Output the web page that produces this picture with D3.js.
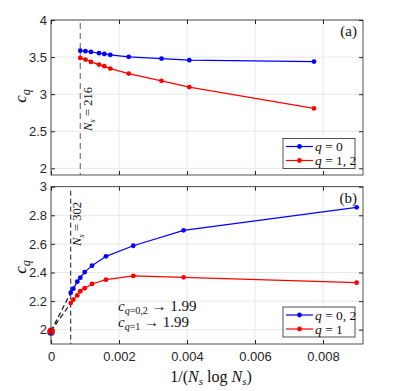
<!DOCTYPE html>
<html>
<head>
<meta charset="utf-8">
<script src="https://cdn.jsdelivr.net/npm/d3@7"></script>
<style>
  body { margin: 0; background: #fff; }
  svg { display: block; }
</style>
</head>
<body>
<script>
const W = 399
const H = 391

// panel (a): x = 1/(Ns log Ns)
const xTop = [0.000861, 0.001015, 0.001176, 0.001412, 0.001568, 0.001744, 0.002285, 0.00325, 0.004068, 0.007735]
const topQ0 = [3.587, 3.579, 3.57, 3.552, 3.543, 3.53, 3.503, 3.48, 3.458, 3.44]
const topQ12 = [3.489, 3.466, 3.435, 3.399, 3.378, 3.345, 3.278, 3.18, 3.095, 2.808]

// panel (b)
const xBot = [0.00058, 0.000656, 0.000774, 0.000862, 0.000991, 0.001206, 0.001618, 0.00242, 0.0039, 0.00899]
const botQ02 = [2.259, 2.287, 2.336, 2.364, 2.403, 2.448, 2.513, 2.587, 2.695, 2.856]
const botQ1 = [2.186, 2.21, 2.24, 2.269, 2.29, 2.32, 2.35, 2.376, 2.366, 2.329]
const extrap = [1.99, 1.99] // q=0,2 and q=1 at 1/(Ns log Ns) -> 0

const xTicks = [0, 0.002, 0.004, 0.006, 0.008]
const yTicksTop = [2, 2.5, 3, 3.5, 4]
const yTicksBot = [2, 2.2, 2.4, 2.6, 2.8, 3]

const nsTop = 216
const nsBot = 302
const xNsTop = 0.000861
const xNsBot = 0.00058

const serif = '"Liberation Serif", "Times New Roman", "DejaVu Serif", serif'
const sans = '"Liberation Sans", Arial, sans-serif'
const axisCol = '#262626'

const svg = d3.select('body').append('svg')
  .attr('width', W)
  .attr('height', H)

const x = d3.scaleLinear().domain([0, 0.009176]).range([51, 363])
const yA = d3.scaleLinear().domain([1.91, 4]).range([175, 20])
const yB = d3.scaleLinear().domain([1.9, 3]).range([344, 186.7])

// draw one panel frame: grid, ticks on all sides
const drawFrame = (y, yTicks, showX) => {
  const g = svg.append('g')
  const [y0, y1] = y.range()
  const [x0, x1] = x.range()

  g.append('g').selectAll('line').data(xTicks).enter().append('line')
    .attr('x1', d => x(d)).attr('x2', d => x(d))
    .attr('y1', y1).attr('y2', y0)
    .attr('stroke', '#e8e8e8').attr('stroke-width', 1)
  g.append('g').selectAll('line').data(yTicks).enter().append('line')
    .attr('x1', x0).attr('x2', x1)
    .attr('y1', d => y(d)).attr('y2', d => y(d))
    .attr('stroke', '#e8e8e8').attr('stroke-width', 1)

  const style = (a) => {
    a.select('.domain').remove()
    a.selectAll('line').attr('stroke', axisCol)
    a.selectAll('text').attr('fill', axisCol)
      .style('font-family', sans).style('font-size', '13px')
  }

  g.append('g').attr('transform', `translate(${x0},0)`)
    .call(d3.axisLeft(y).tickValues(yTicks).tickFormat(d3.format('~g'))
      .tickSizeInner(-4).tickSizeOuter(0).tickPadding(4))
    .call(style)
  g.append('g').attr('transform', `translate(${x1},0)`)
    .call(d3.axisRight(y).tickValues(yTicks).tickFormat('')
      .tickSizeInner(-4).tickSizeOuter(0))
    .call(style)
  g.append('g').attr('transform', `translate(0,${y0})`)
    .call(d3.axisBottom(x).tickValues(xTicks)
      .tickFormat(showX ? d3.format('~g') : '')
      .tickSizeInner(-4).tickSizeOuter(0).tickPadding(8))
    .call(style)
  g.append('g').attr('transform', `translate(0,${y1})`)
    .call(d3.axisTop(x).tickValues(xTicks).tickFormat('')
      .tickSizeInner(-4).tickSizeOuter(0))
    .call(style)

  return g
}

const drawBox = (y) => {
  const [y0, y1] = y.range()
  const [x0, x1] = x.range()
  svg.append('rect')
    .attr('x', x0).attr('y', y1)
    .attr('width', x1 - x0).attr('height', y0 - y1)
    .attr('fill', 'none').attr('stroke', axisCol).attr('stroke-width', 0.8)
}

const drawSeries = (y, xs, ys, color) => {
  const data = xs.map((d, i) => [d, ys[i]])
  const line = d3.line().x(d => x(d[0])).y(d => y(d[1]))
  svg.append('path').datum(data)
    .attr('d', line)
    .attr('fill', 'none').attr('stroke', color).attr('stroke-width', 1.2)
  svg.append('g').selectAll('circle').data(data).enter().append('circle')
    .attr('cx', d => x(d[0])).attr('cy', d => y(d[1]))
    .attr('r', 2.4).attr('fill', color)
}

const drawLegend = (x0, y0, labels, colors) => {
  const g = svg.append('g').attr('transform', `translate(${x0},${y0})`)
  g.append('rect').attr('width', 72).attr('height', 30)
    .attr('fill', '#fff').attr('stroke', axisCol).attr('stroke-width', 0.8)
  labels.forEach((lab, i) => {
    const yy = 8 + i * 14
    g.append('line').attr('x1', 3).attr('x2', 30).attr('y1', yy).attr('y2', yy)
      .attr('stroke', colors[i]).attr('stroke-width', 1.2)
    g.append('circle').attr('cx', 16.5).attr('cy', yy).attr('r', 2.4).attr('fill', colors[i])
    const t = g.append('text').attr('x', 32).attr('y', yy + 4.5)
      .style('font-family', serif).style('font-size', '13.5px').attr('fill', '#111')
    t.append('tspan').style('font-style', 'italic').text('q')
    t.append('tspan').text(' = ' + lab)
  })
}

const nsLabel = (xb, yb, n) => {
  const t = svg.append('text')
    .attr('transform', `translate(${xb},${yb}) rotate(-90)`)
    .style('font-family', serif).style('font-size', '12.5px').attr('fill', '#111')
  t.append('tspan').style('font-style', 'italic').text('N')
  t.append('tspan').attr('dy', 3).style('font-size', '9px').style('font-style', 'italic').text('s')
  t.append('tspan').attr('dy', -3).text(' = ' + n)
}

// ---------- panel (a)
drawFrame(yA, yTicksTop, false)
svg.append('line')
  .attr('x1', x(xNsTop)).attr('x2', x(xNsTop))
  .attr('y1', yA.range()[1] + 3).attr('y2', yA.range()[0])
  .attr('stroke', '#777').attr('stroke-width', 1.2)
  .attr('stroke-dasharray', '6,4')
nsLabel(92, 131, nsTop)
drawSeries(yA, xTop, topQ0, '#0000ff')
drawSeries(yA, xTop, topQ12, '#ff0000')
drawBox(yA)
drawLegend(283, 138.5, ['0', '1, 2'], ['#0000ff', '#ff0000'])
svg.append('text').attr('x', 357).attr('y', 36).attr('text-anchor', 'end')
  .style('font-family', serif).style('font-size', '15px').attr('fill', '#111').text('(a)')

// ---------- panel (b)
drawFrame(yB, yTicksBot, true)
svg.append('line')
  .attr('x1', x(xNsBot)).attr('x2', x(xNsBot))
  .attr('y1', yB.range()[1] + 4).attr('y2', yB.range()[0])
  .attr('stroke', '#222').attr('stroke-width', 1)
  .attr('stroke-dasharray', '5,3')
nsLabel(81, 246, nsBot)

// extrapolation to 1/(Ns log Ns) -> 0
const firstB = [[xBot[0], botQ02[0]], [xBot[0], botQ1[0]]]
firstB.forEach((p, i) => {
  svg.append('line')
    .attr('x1', x(0)).attr('y1', yB(extrap[i]))
    .attr('x2', x(p[0])).attr('y2', yB(p[1]))
    .attr('stroke', '#111').attr('stroke-width', 1.2)
    .attr('stroke-dasharray', '5,3')
})
drawSeries(yB, xBot, botQ02, '#0000ff')
drawSeries(yB, xBot, botQ1, '#ff0000')
svg.append('circle').attr('cx', x(0)).attr('cy', yB(extrap[0]) + 1).attr('r', 3.6).attr('fill', '#0000ff')
svg.append('circle').attr('cx', x(0)).attr('cy', yB(extrap[1])).attr('r', 3.6).attr('fill', '#ff0000')
drawBox(yB)
drawLegend(283, 307, ['0, 2', '1'], ['#0000ff', '#ff0000'])
svg.append('text').attr('x', 357).attr('y', 203).attr('text-anchor', 'end')
  .style('font-family', serif).style('font-size', '15px').attr('fill', '#111').text('(b)')

// limit annotation
const limits = [['q=0,2', extrap[0]], ['q=1', extrap[1]]]
limits.forEach((d, i) => {
  const t = svg.append('text').attr('x', 118).attr('y', 311 + i * 16)
    .style('font-family', serif).style('font-size', '15px').attr('fill', '#111')
  t.append('tspan').style('font-style', 'italic').text('c')
  const sub = t.append('tspan').attr('dy', 2.5).style('font-size', '10px')
  sub.append('tspan').style('font-style', 'italic').text('q')
  sub.append('tspan').text(d[0].slice(1))
  t.append('tspan').attr('dy', -2.5).text(' \u2192 ' + d3.format('.2f')(d[1]))
})

// axis labels
const yLabel = (cy) => {
  const t = svg.append('text')
    .attr('transform', `translate(26,${cy}) rotate(-90)`)
    .attr('text-anchor', 'middle')
    .style('font-family', serif).style('font-size', '17px').attr('fill', '#111')
  t.append('tspan').style('font-style', 'italic').text('c')
  t.append('tspan').attr('dy', 4).style('font-size', '12px').style('font-style', 'italic').text('q')
}
yLabel(96)
yLabel(267)

const xl = svg.append('text').attr('x', 211).attr('y', 382).attr('text-anchor', 'middle')
  .style('font-family', serif).style('font-size', '16px').attr('fill', '#111')
xl.append('tspan').text('1/(')
xl.append('tspan').style('font-style', 'italic').text('N')
xl.append('tspan').attr('dy', 3).style('font-size', '11px').style('font-style', 'italic').text('s')
xl.append('tspan').attr('dy', -3).text(' log ')
xl.append('tspan').style('font-style', 'italic').text('N')
xl.append('tspan').attr('dy', 3).style('font-size', '11px').style('font-style', 'italic').text('s')
xl.append('tspan').attr('dy', -3).text(')')
</script>
</body>
</html>
